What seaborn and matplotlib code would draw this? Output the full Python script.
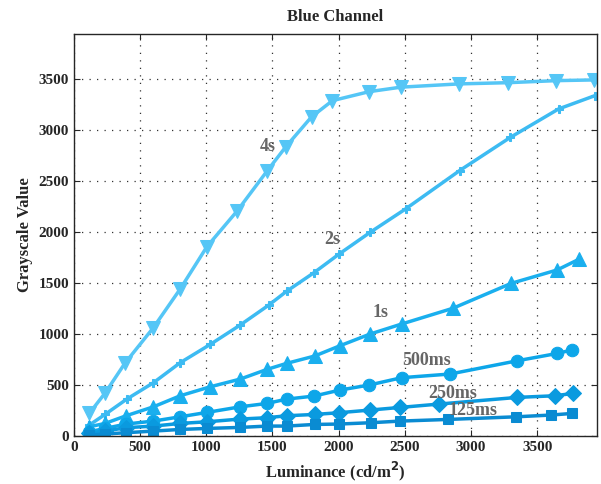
import numpy as np
import pandas as pd
import matplotlib
matplotlib.use("Agg")
import matplotlib.pyplot as plt
import seaborn as sns

# ---- data ----
lum_4s = [116, 235, 386, 599, 803, 1005, 1233, 1460, 1600, 1795, 1953, 2230, 2470, 2910, 3280, 3644, 3932]
val_4s = [222, 421, 715, 1060, 1441, 1856, 2205, 2598, 2833, 3127, 3286, 3374, 3418, 3450, 3462, 3482, 3489]

lum_2s = [116, 235, 399, 601, 803, 1030, 1253, 1473, 1606, 1814, 2004, 2238, 2509, 2913, 3298, 3662, 3936]
val_2s = [108, 212, 362, 523, 719, 898, 1085, 1284, 1418, 1601, 1784, 1996, 2228, 2600, 2927, 3205, 3335]

lum_1s = [116, 235, 394, 601, 803, 1030, 1258, 1460, 1606, 1818, 2010, 2238, 2476, 2863, 3305, 3650, 3815]
val_1s = [91, 124, 199, 287, 395, 483, 559, 654, 712, 784, 885, 1000, 1098, 1252, 1497, 1627, 1732]

lum_500 = [116, 235, 394, 601, 803, 1005, 1258, 1460, 1606, 1814, 2010, 2230, 2476, 2842, 3350, 3653, 3760]
val_500 = [42, 75, 118, 147, 189, 232, 287, 320, 362, 392, 451, 500, 572, 608, 738, 810, 843]

lum_250 = [116, 235, 394, 601, 803, 1005, 1258, 1460, 1606, 1818, 2004, 2238, 2466, 2761, 3350, 3632, 3772]
val_250 = [26, 49, 82, 98, 124, 140, 167, 180, 199, 212, 229, 255, 281, 314, 379, 395, 418]

lum_125 = [116, 235, 394, 601, 803, 1005, 1258, 1460, 1606, 1818, 2004, 2245, 2466, 2825, 3343, 3603, 3765]
val_125 = [10, 20, 33, 49, 65, 75, 85, 98, 98, 114, 118, 131, 147, 163, 189, 206, 222]

series_names = ["4s", "2s", "1s", "500ms", "250ms", "125ms"]
label_pos = [(1462, 2833), (1955, 1922), (2318, 1206), (2667, 745), (2864, 422), (3015, 255)]

series = [
    (lum_4s, val_4s, "v", 10, "#55C6F6"),
    (lum_2s, val_2s, "P", 6, "#3DBBF2"),
    (lum_1s, val_1s, "^", 10, "#1AAFEE"),
    (lum_500, val_500, "o", 9, "#0DA6E9"),
    (lum_250, val_250, "D", 8, "#0A9ADF"),
    (lum_125, val_125, "s", 7, "#0A8BD2"),
]

sns.set_style("ticks")
plt.rcParams["font.family"] = ["Liberation Serif", "DejaVu Serif"]
plt.rcParams["font.weight"] = "bold"

fig = plt.figure(figsize=(6.01, 4.84), dpi=100)
ax = fig.add_axes([0.123, 0.099, 0.870, 0.831])

for (xs, ys, mk, ms, col), name in zip(series, series_names):
    df = pd.DataFrame({"lum": xs, "val": ys})
    sns.lineplot(data=df, x="lum", y="val", ax=ax, color=col, marker=mk,
                 markersize=ms, markeredgecolor=col, linewidth=2.5, sort=False)

for name, (lx, ly) in zip(series_names, label_pos):
    ax.text(lx, ly, name, color="#666666", fontsize=13, fontweight="bold",
            ha="center", va="center")

ax.set_xlim(0, 3950)
ax.set_ylim(0, 3940)
ax.set_xticks(np.arange(0, 4000, 500))
ax.set_yticks(np.arange(0, 4000, 500))
ax.grid(True, linestyle=(0, (1, 5)), color="#333333", linewidth=0.9)
ax.tick_params(direction="in", top=True, right=True, labelsize=11, length=4)
for lab in ax.get_xticklabels() + ax.get_yticklabels():
    lab.set_fontweight("bold")
for sp in ax.spines.values():
    sp.set_linewidth(1.0)

ax.set_title("Blue Channel", fontsize=12, fontweight="bold", pad=9)
ax.set_xlabel("Luminance (cd/m$^\\mathbf{2}$)", fontsize=12, fontweight="bold")
ax.set_ylabel("Grayscale Value", fontsize=12, fontweight="bold")

fig.savefig("out.png", dpi=100)
